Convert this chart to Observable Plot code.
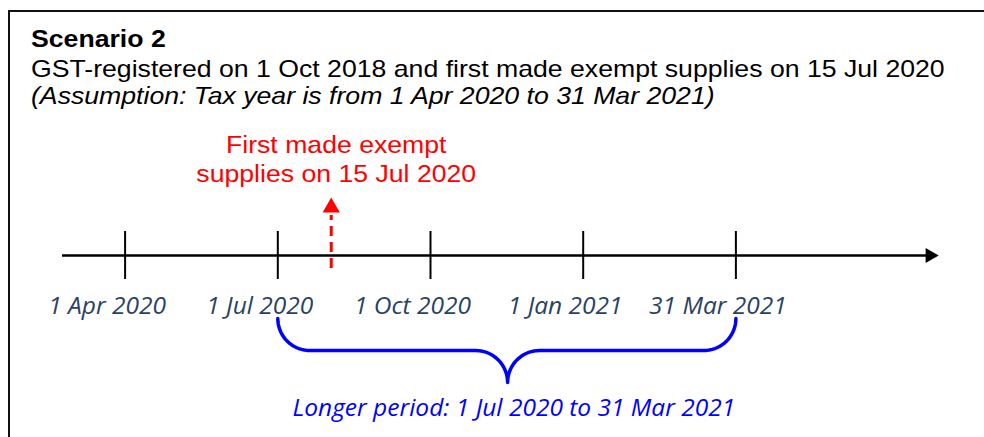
<!DOCTYPE html>
<html>
<head>
<meta charset="utf-8">
<script src="https://cdn.jsdelivr.net/npm/d3@7"></script>
<script src="https://cdn.jsdelivr.net/npm/@observablehq/plot@0.6"></script>
<style>
  html, body { margin: 0; padding: 0; background: #fff; width: 984px; height: 437px; overflow: hidden; }
  #frame { position: absolute; left: 8px; top: 10px; width: 1100px; height: 600px; border-top: 2px solid #111; border-left: 2px solid #111; }
  .t { position: absolute; left: 31px; white-space: nowrap; font-family: "Liberation Sans", Arial, sans-serif; color: #000; line-height: 1; transform: scaleX(1.11); transform-origin: 0 0; }
  #title { top: 27px; font-size: 24px; font-weight: bold; }
  #sub { top: 57px; font-size: 24px; }
  #note { top: 84px; font-size: 24px; font-style: italic; }
  #chart { position: absolute; left: 0; top: 120px; }
</style>
</head>
<body>
<div id="frame"></div>
<div class="t" id="title">Scenario 2</div>
<div class="t" id="sub">GST-registered on 1 Oct 2018 and first made exempt supplies on 15 Jul 2020</div>
<div class="t" id="note">(Assumption: Tax year is from 1 Apr 2020 to 31 Mar 2021)</div>
<div id="chart"></div>
<script>
// Timeline ticks (positions are quarter indices along the timeline)
const tickLabels = ["1 Apr 2020", "1 Jul 2020", "1 Oct 2020", "1 Jan 2021", "31 Mar 2021"];
const tickPos = [0, 1, 2, 3, 4];
// Event marker
const eventLabel = ["First made exempt", "supplies on 15 Jul 2020"];
const eventPos = 1.35; // 15 Jul 2020 as drawn in the reference
// Longer period brace
const periodStart = 1; // 1 Jul 2020
const periodEnd = 4;   // 31 Mar 2021
const periodLabel = "Longer period: 1 Jul 2020 to 31 Mar 2021";
// Timeline extent
const axisStart = -0.41, axisEnd = 5.34;

const W = 984, H = 317;
const xDomain = [axisStart, axisEnd];
const yDomain = [-7.583, 5.625];
const pxPerX = (940 - 62) / (axisEnd - axisStart);
const pxPerY = 24;
const py = p => (255 - p) / pxPerY; // helper: vertical offset in units relative to the timeline

const ticks = tickPos.map((p, i) => ({x: p, label: tickLabels[i]}));

// Build brace shape in data units
function brace(a, b, yTop, yMid, yTip) {
  const r = 32 / pxPerX;
  const pts = [];
  const mid = (a + b) / 2 + 0.005;
  const arc = (cx, cy, ry, t0, t1, n = 18) => {
    for (let k = 0; k <= n; k++) {
      const t = t0 + (t1 - t0) * k / n;
      pts.push({x: cx + r * Math.cos(t), y: cy + ry * Math.sin(t)});
    }
  };
  const ry1 = yTop - yMid, ry2 = yMid - yTip;
  arc(a + r, yTop, ry1, Math.PI, 1.5 * Math.PI);
  arc(mid - r, yTip, ry2, 0.5 * Math.PI, 0);
  arc(mid + r, yTip, ry2, Math.PI, 0.5 * Math.PI);
  arc(b - r, yTop, ry1, 1.5 * Math.PI, 2 * Math.PI);
  return pts;
}
const bracePts = brace(periodStart, periodEnd, py(318), py(350), py(382));

const labelFont = "'Open Sans', Lato, sans-serif";

const plot = Plot.plot({
  width: W, height: H,
  margin: 0,
  x: {domain: xDomain, range: [62, 940], axis: null},
  y: {domain: yDomain, range: [H, 0], axis: null},
  marks: [
    // main timeline
    Plot.ruleY([0], {x1: axisStart, x2: axisEnd - 14 / pxPerX, stroke: "#000", strokeWidth: 2.5}),
    Plot.dot([{x: axisEnd - 10.5 / pxPerX, y: 0}], {x: "x", y: "y", symbol: "triangle", r: 5.6, fill: "#000", stroke: null, rotate: 90}),
    // ticks
    Plot.ruleX(ticks, {x: "x", y1: -1, y2: 1, stroke: "#000", strokeWidth: 2}),
    Plot.text(ticks, {x: "x", y: py(306), text: "label", dx: -18, fontSize: 24.5, fontStyle: "italic", fontFamily: labelFont, fill: "#2a4262", textAnchor: "middle"}),
    // event arrow
    Plot.ruleX([eventPos], {y1: py(268), y2: py(215), stroke: "#ff0000", strokeWidth: 3, strokeDasharray: "10,6"}),
    Plot.dot([{x: eventPos, y: py(207)}], {x: "x", y: "y", symbol: "triangle", r: 6.4, fill: "#ff0000", stroke: null}),
    Plot.text([eventLabel.join("\n")], {x: eventPos + 5 / pxPerX, y: py(158), text: d => d, fontSize: 24, lineHeight: 1.2, fontFamily: "'Liberation Sans', Arial, sans-serif", fill: "#ff0000", textAnchor: "middle"}),
    // brace
    Plot.line(bracePts, {x: "x", y: "y", stroke: "#0000ff", strokeWidth: 3.5, curve: "linear", strokeLinejoin: "round", strokeLinecap: "round"}),
    Plot.text([periodLabel], {x: (periodStart + periodEnd) / 2, y: py(408), dx: 7, text: d => d, fontSize: 24.5, fontStyle: "italic", fontFamily: labelFont, fill: "#0000ff", textAnchor: "middle"})
  ]
});
document.getElementById("chart").appendChild(plot);

// Horizontally stretch the red Arial annotation like the reference
d3.select(plot).selectAll("text").each(function() {
  if (this.getAttribute("fill") === "#ff0000" || (this.parentNode && this.parentNode.getAttribute("fill") === "#ff0000")) {
    const t = this.getAttribute("transform");
    if (t && /translate/.test(t)) {
      this.setAttribute("transform", t + " scale(1.11,1)");
    } else {
      const x = +this.getAttribute("x") || 0, y = +this.getAttribute("y") || 0;
      this.setAttribute("transform", `translate(${x},${y}) scale(1.11,1) translate(${-x},${-y})`);
    }
  }
});
</script>
</body>
</html>
